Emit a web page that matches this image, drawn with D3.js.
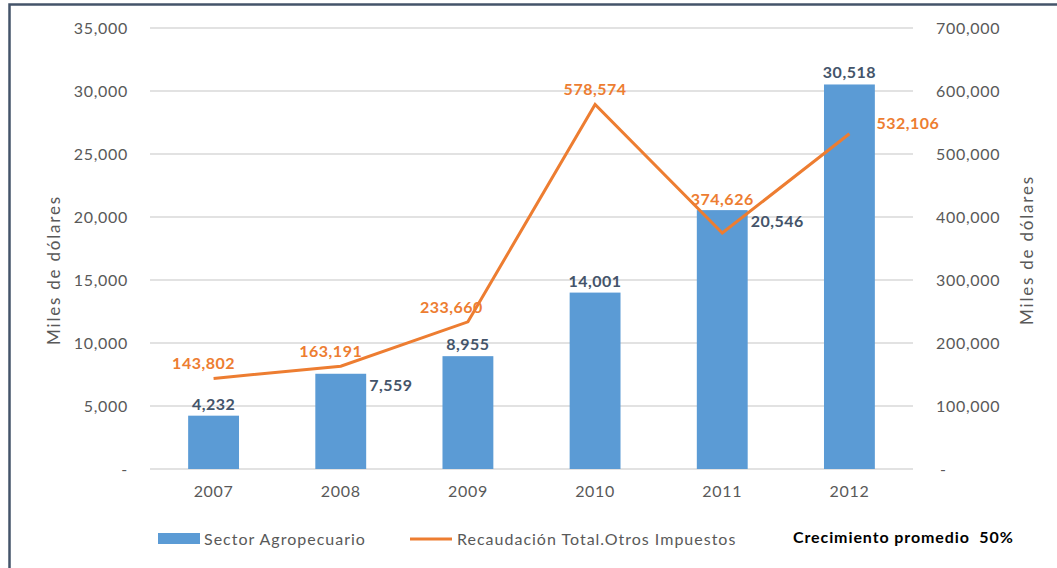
<!DOCTYPE html>
<html>
<head>
<script src="https://d3js.org/d3.v7.min.js"></script>
<style>
    body { margin: 0; background: #fff; }
    svg text { font-family: Lato, "Open Sans", sans-serif; }
</style>
</head>
<body>
<script>
    // data
    var years = ['2007', '2008', '2009', '2010', '2011', '2012'];
    var agro = [4232, 7559, 8955, 14001, 20546, 30518];
    var recaudacion = [143802, 163191, 233660, 578574, 374626, 532106];
    var leftTicks = [0, 5000, 10000, 15000, 20000, 25000, 30000, 35000];
    var rightTicks = [0, 100000, 200000, 300000, 400000, 500000, 600000, 700000];
    var seriesNames = ['Sector Agropecuario', 'Recaudación Total.Otros Impuestos'];
    var note = 'Crecimiento promedio  50%';

    // where each data label sits
    var barLabelSide = ['top', 'right', 'top', 'top', 'right', 'top'];
    var lineLabelSide = ['upleft', 'upleft', 'left', 'top', 'top', 'right'];

    var width = 1057, height = 568;
    var margin = { top: 28, right: 144, bottom: 99, left: 150 };
    var innerW = width - margin.left - margin.right,
        innerH = height - margin.top - margin.bottom;

    var blue = '#5B9BD5', orange = '#ED7D31', grey = '#595959', dark = '#44546A';
    var fmt = d3.format(',');

    var svg = d3.select('body').append('svg')
        .attr('width', width)
        .attr('height', height);

    // frame
    svg.append('path')
        .attr('d', 'M9.5,' + height + 'V4.5H' + width)
        .attr('fill', 'none')
        .attr('stroke', '#44546A')
        .attr('stroke-width', 2.5);

    var g = svg.append('g')
        .attr('transform', 'translate(' + margin.left + ',' + margin.top + ')');

    var x = d3.scaleBand().domain(years).range([0, innerW]).paddingInner(0.6).paddingOuter(0.3);
    var yL = d3.scaleLinear().domain([0, 35000]).range([innerH, 0]);
    var yR = d3.scaleLinear().domain([0, 700000]).range([innerH, 0]);

    // grid
    g.selectAll('.grid').data(leftTicks).enter().append('line')
        .attr('x1', 0).attr('x2', innerW)
        .attr('y1', d => yL(d)).attr('y2', d => yL(d))
        .attr('stroke', '#d9d9d9').attr('stroke-width', 1.3);

    // axes
    var axL = g.append('g')
        .call(d3.axisLeft(yL).tickValues(leftTicks).tickSize(0).tickPadding(22)
            .tickFormat(d => d === 0 ? '-' : fmt(d)));
    var axR = g.append('g')
        .attr('transform', 'translate(' + innerW + ',0)')
        .call(d3.axisRight(yR).tickValues(rightTicks).tickSize(0).tickPadding(23)
            .tickFormat(d => d === 0 ? '-' : fmt(d)));
    var axX = g.append('g')
        .attr('transform', 'translate(0,' + innerH + ')')
        .call(d3.axisBottom(x).tickSize(0).tickPadding(17));
    [axL, axR, axX].forEach(a => {
        a.select('.domain').remove();
        a.selectAll('text').attr('fill', grey)
            .style('font-size', '16px').style('letter-spacing', '0.7px');
    });
    axR.selectAll('text').filter(d => d === 0).attr('dx', 4);

    // axis titles
    svg.append('text')
        .attr('transform', 'translate(60,270) rotate(-90)')
        .attr('text-anchor', 'middle')
        .attr('fill', grey).style('font-size', '17px').style('letter-spacing', '1.8px')
        .text('Miles de dólares');
    svg.append('text')
        .attr('transform', 'translate(1033,250) rotate(-90)')
        .attr('text-anchor', 'middle')
        .attr('fill', grey).style('font-size', '17px').style('letter-spacing', '1.8px')
        .text('Miles de dólares');

    // bars
    g.selectAll('.bar').data(agro).enter().append('rect')
        .attr('x', (d, i) => x(years[i]))
        .attr('y', d => yL(d))
        .attr('width', x.bandwidth())
        .attr('height', d => innerH - yL(d))
        .attr('fill', blue);

    // line
    var line = d3.line()
        .x((d, i) => x(years[i]) + x.bandwidth() / 2)
        .y(d => yR(d));
    g.append('path')
        .datum(recaudacion)
        .attr('d', line)
        .attr('fill', 'none')
        .attr('stroke', orange)
        .attr('stroke-width', 3);

    // bar labels
    g.selectAll('.blabel').data(agro).enter().append('text')
        .attr('x', (d, i) => barLabelSide[i] === 'right'
            ? x(years[i]) + x.bandwidth() + 3
            : x(years[i]) + x.bandwidth() / 2)
        .attr('y', (d, i) => barLabelSide[i] === 'right' ? yL(d) + 17 : yL(d) - 6)
        .attr('text-anchor', (d, i) => barLabelSide[i] === 'right' ? 'start' : 'middle')
        .attr('fill', dark)
        .style('font-size', '16px').style('font-weight', 'bold').style('letter-spacing', '0.5px')
        .text(d => fmt(d));

    // line labels
    g.selectAll('.llabel').data(recaudacion).enter().append('text')
        .attr('x', (d, i) => {
            var cx = x(years[i]) + x.bandwidth() / 2;
            if (lineLabelSide[i] === 'upleft') return cx - 10;
            if (lineLabelSide[i] === 'left') return cx + 15;
            if (lineLabelSide[i] === 'right') return cx + 27;
            return cx;
        })
        .attr('y', (d, i) => {
            var cy = yR(d);
            if (lineLabelSide[i] === 'right') return cy - 5;
            if (lineLabelSide[i] === 'top' && i === 4) return cy - 28;
            return cy - 9;
        })
        .attr('text-anchor', (d, i) => lineLabelSide[i] === 'right' ? 'start'
            : lineLabelSide[i] === 'left' ? 'end' : 'middle')
        .attr('fill', orange)
        .style('font-size', '16px').style('font-weight', 'bold').style('letter-spacing', '0.5px')
        .text(d => fmt(d));

    // legend
    var legend = svg.append('g');
    legend.append('rect')
        .attr('x', 158).attr('y', 533).attr('width', 42).attr('height', 11)
        .attr('fill', blue);
    legend.append('text')
        .attr('x', 204).attr('y', 545)
        .attr('fill', grey).style('font-size', '16px').style('letter-spacing', '1px')
        .text(seriesNames[0]);
    legend.append('line')
        .attr('x1', 410).attr('x2', 452).attr('y1', 539).attr('y2', 539)
        .attr('stroke', orange).attr('stroke-width', 3);
    legend.append('text')
        .attr('x', 457).attr('y', 545)
        .attr('fill', grey).style('font-size', '16px').style('letter-spacing', '1px')
        .text(seriesNames[1]);
    legend.append('text')
        .attr('x', 793).attr('y', 543)
        .attr('fill', '#000').style('font-size', '16px').style('font-weight', 'bold')
        .style('letter-spacing', '0.9px')
        .style('white-space', 'pre')
        .text(note);
</script>
</body>
</html>
